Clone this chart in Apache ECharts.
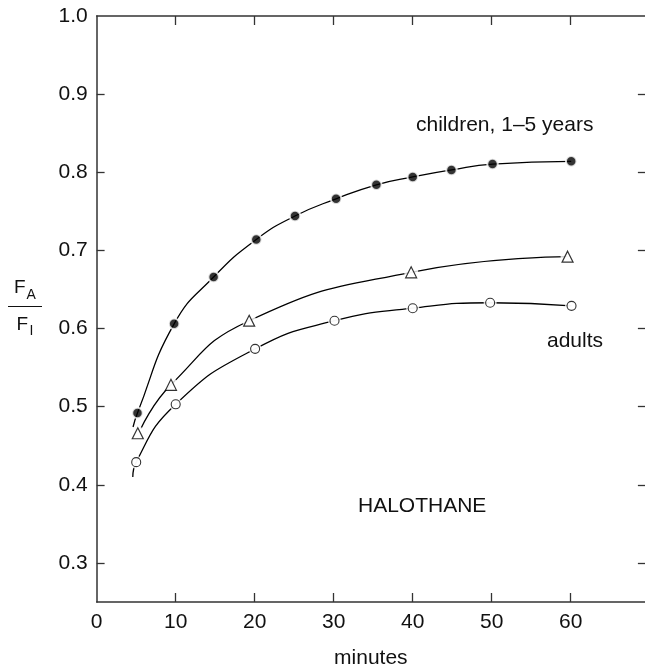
<!DOCTYPE html>
<html>
<head>
<meta charset="utf-8">
<script src="https://cdn.jsdelivr.net/npm/echarts@6/dist/echarts.min.js"></script>
<style>html,body{margin:0;padding:0;background:#fff;overflow:hidden}#c{width:645px;height:669px}</style>
</head>
<body>
<div id="c"></div>
<script>
// minutes / FA/FI readings
var childrenPts = [[5.16,0.492],[9.8,0.606],[14.8,0.666],[20.2,0.714],[25.1,0.744],[30.3,0.766],[35.4,0.784],[40,0.794],[44.9,0.803],[50.1,0.8105],[60.06,0.814]];
var childrenCurve = [[4.6,0.474],[5.16,0.492],[9.8,0.606],[14.8,0.666],[20.2,0.714],[25.1,0.744],[30.3,0.766],[35.4,0.784],[40,0.794],[44.9,0.803],[50.1,0.8105],[60.06,0.814]];
var trianglePts = [[5.2,0.466],[9.4,0.528],[19.3,0.610],[39.8,0.672],[59.6,0.692]];
var triangleCurve = [[5.6,0.472],[9.4,0.528],[19.3,0.610],[39.8,0.672],[59.6,0.692]];
var adultPts = [[5.0,0.429],[10,0.503],[20.05,0.574],[30.1,0.610],[40,0.626],[49.8,0.633],[60.1,0.629]];
var adultCurve = [[4.57,0.41],[5.0,0.429],[10,0.503],[20.05,0.574],[30.1,0.610],[40,0.626],[49.8,0.633],[60.1,0.629]];
var xTickLabels = [0,10,20,30,40,50,60];
var xTicks = [10,20,30,40,50,60];
var yTickLabels = [0.3,0.4,0.5,0.6,0.7,0.8,0.9,1.0];
var yTicks = [0.3,0.4,0.5,0.6,0.7,0.8,0.9];

var X_MAX = 69.4;
var FONT = '"Liberation Sans", Arial, Helvetica, sans-serif';
var axisCol = '#333';
var chart = echarts.init(document.getElementById('c'), null, {renderer:'canvas'});

function lineSeries(data){
  return {type:'line', data:data, showSymbol:false, smooth:0.5,
    lineStyle:{color:'#000', width:1.3}, z:2, silent:true, animation:false};
}
var tickSeries = lineSeries(adultCurve);
var tickSegs = [];
yTicks.forEach(function(v){
  tickSegs.push([{coord:[0, v]}, {coord:[1.0, v]}]);
  tickSegs.push([{coord:[X_MAX-0.9, v]}, {coord:[X_MAX, v]}]);
});
tickSeries.markLine = {
  silent:true, symbol:['none','none'], animation:false,
  label:{show:false},
  lineStyle:{color:axisCol, width:1.3, type:'solid'},
  emphasis:{disabled:true},
  data: tickSegs
};

var option = {
  animation:false,
  grid:{left:96.7, right:0, top:16, bottom:67, containLabel:false, outerBoundsMode:'none'},
  xAxis:[{
    type:'value', min:0, max:X_MAX, position:'bottom',
    name:'minutes', nameLocation:'middle', nameGap:46,
    nameTextStyle:{fontFamily:FONT, fontSize:21, color:'#111'},
    axisLine:{show:true, lineStyle:{color:axisCol, width:1.5}},
    axisTick:{show:true, inside:true, length:9, customValues:xTicks, lineStyle:{color:axisCol, width:1.3}},
    axisLabel:{customValues:xTickLabels, margin:10, fontFamily:FONT, fontSize:21, color:'#111'},
    splitLine:{show:false}
  },{
    type:'value', min:0, max:X_MAX, position:'top',
    axisLine:{show:true, lineStyle:{color:axisCol, width:1.5}},
    axisTick:{show:true, inside:true, length:9, customValues:xTicks, lineStyle:{color:axisCol, width:1.3}},
    axisLabel:{show:false}, splitLine:{show:false}
  }],
  yAxis:[{
    type:'value', min:0.25, max:1.0, interval:0.05, position:'left',
    axisLine:{show:true, lineStyle:{color:axisCol, width:1.5}},
    axisTick:{show:false},
    axisLabel:{customValues:yTickLabels, margin:9, fontFamily:FONT, fontSize:21, color:'#111',
      formatter:function(v){return v.toFixed(1);}},
    splitLine:{show:false}
  }],
  series:[
    lineSeries(childrenCurve),
    lineSeries(triangleCurve),
    tickSeries,
    {type:'scatter', data:childrenPts, symbol:'circle', symbolSize:10.5,
      itemStyle:{color:'#000', borderColor:'#fff', borderWidth:2}, z:4, silent:true},
    {type:'scatter', data:trianglePts, symbol:'circle', symbolSize:14,
      itemStyle:{color:'#fff'}, z:3, silent:true},
    {type:'scatter', data:trianglePts, symbol:'triangle', symbolSize:[11,11],
      itemStyle:{color:'#fff', borderColor:'#000', borderWidth:1.2}, z:4, silent:true},
    {type:'scatter', data:adultPts, symbol:'circle', symbolSize:13,
      itemStyle:{color:'#fff'}, z:3, silent:true},
    {type:'scatter', data:adultPts, symbol:'circle', symbolSize:9,
      itemStyle:{color:'#fff', borderColor:'#000', borderWidth:1.1}, z:4, silent:true}
  ],
  graphic:[
    {type:'text', left:416, top:115, style:{text:'children, 1–5 years', font:'21px '+FONT, fill:'#111'}},
    {type:'text', left:547, top:331, style:{text:'adults', font:'21px '+FONT, fill:'#111'}},
    {type:'text', left:358, top:496, style:{text:'HALOTHANE', font:'21px '+FONT, fill:'#111'}},
    {type:'text', x:14, y:288, style:{text:'F', font:'19px '+FONT, fill:'#111', verticalAlign:'middle'}},
    {type:'text', x:26.5, y:295, style:{text:'A', font:'14px '+FONT, fill:'#111', verticalAlign:'middle'}},
    {type:'line', shape:{x1:8, y1:306.5, x2:42, y2:306.5}, style:{stroke:'#111', lineWidth:1.2}},
    {type:'text', x:16.5, y:325, style:{text:'F', font:'19px '+FONT, fill:'#111', verticalAlign:'middle'}},
    {type:'text', x:29.5, y:331, style:{text:'I', font:'14px '+FONT, fill:'#111', verticalAlign:'middle'}}
  ]
};
chart.setOption(option);
</script>
</body>
</html>
